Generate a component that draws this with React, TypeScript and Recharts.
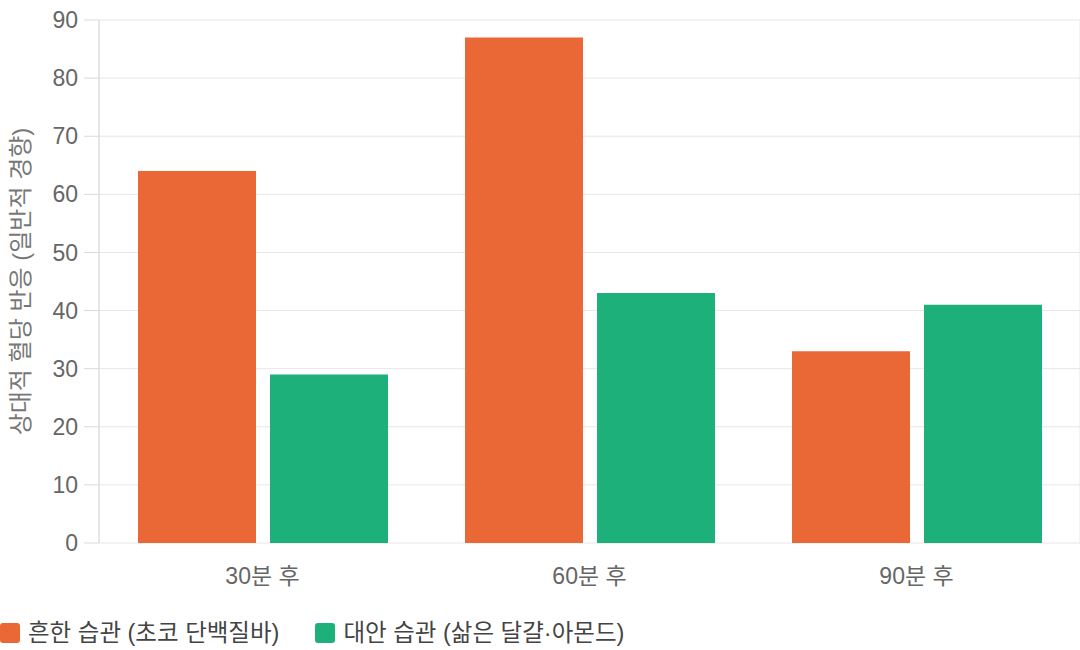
import { Bar, BarChart, CartesianGrid, Legend, XAxis, YAxis } from "recharts";

const categories = ["30분 후", "60분 후", "90분 후"];
const commonHabit = [64, 87, 33];
const alternativeHabit = [29, 43, 41];
const yTicks = [0, 10, 20, 30, 40, 50, 60, 70, 80, 90];
const edgeTicks = [0, 1, 2, 3];

const seriesNames = ["흔한 습관 (초코 단백질바)", "대안 습관 (삶은 달걀·아몬드)"];
const seriesColors = ["#e96835", "#1db07a"];

const FONT = "'Liberation Sans', Arial, 'Noto Sans CJK KR', sans-serif";

const data = categories.map((name, i) => ({
  name,
  common: commonHabit[i],
  alternative: alternativeHabit[i],
}));

function LegendRow() {
  return (
    <div style={{ display: "flex", alignItems: "center", paddingTop: 18, height: 30, fontFamily: FONT }}>
      {seriesNames.map((label, i) => (
        <div key={label} style={{ display: "flex", alignItems: "center", marginRight: 36, height: 30 }}>
          <span
            style={{
              width: 20,
              height: 20,
              borderRadius: 3,
              background: seriesColors[i],
              display: "inline-block",
              marginRight: 8,
            }}
          />
          <span style={{ fontSize: 23.5, lineHeight: "30px", color: "#444" }}>{label}</span>
        </div>
      ))}
    </div>
  );
}

export default function App() {
  return (
    <div style={{ position: "absolute", left: 0, top: 0, width: 1080, height: 650, background: "#fff" }}>
      <BarChart
        width={1080}
        height={650}
        data={data}
        margin={{ top: 20, right: 0, left: 0, bottom: 0 }}
        barCategoryGap={39}
        barGap={14}
      >
        <CartesianGrid stroke="#e6e6e6" xAxisId="edge" />
        <XAxis
          xAxisId="edge"
          type="number"
          domain={[0, 3]}
          ticks={edgeTicks}
          height={0}
          tick={false}
          tickSize={15}
          stroke="#d9d9d9"
          allowDataOverflow
        />
        <XAxis
          xAxisId="cat"
          dataKey="name"
          height={57}
          axisLine={false}
          tickLine={false}
          tickSize={15}
          tickMargin={10}
          tick={{ fill: "#666", fontSize: 23, fontFamily: FONT }}
        />
        <YAxis
          domain={[0, 90]}
          ticks={yTicks}
          width={99}
          stroke="#d9d9d9"
          tickSize={15}
          tickMargin={6}
          tick={{ fill: "#666", fontSize: 23, fontFamily: FONT }}
          label={{
            value: "상대적 혈당 반응 (일반적 경향)",
            angle: -90,
            position: "insideLeft",
            offset: 20,
            style: { textAnchor: "middle", fill: "#777", fontSize: 24, fontFamily: FONT },
          }}
        />
        <Legend verticalAlign="bottom" align="left" height={50} content={() => <LegendRow />} />
        <Bar xAxisId="cat" dataKey="common" name={seriesNames[0]} fill={seriesColors[0]} isAnimationActive={false} />
        <Bar xAxisId="cat" dataKey="alternative" name={seriesNames[1]} fill={seriesColors[1]} isAnimationActive={false} />
      </BarChart>
    </div>
  );
}
